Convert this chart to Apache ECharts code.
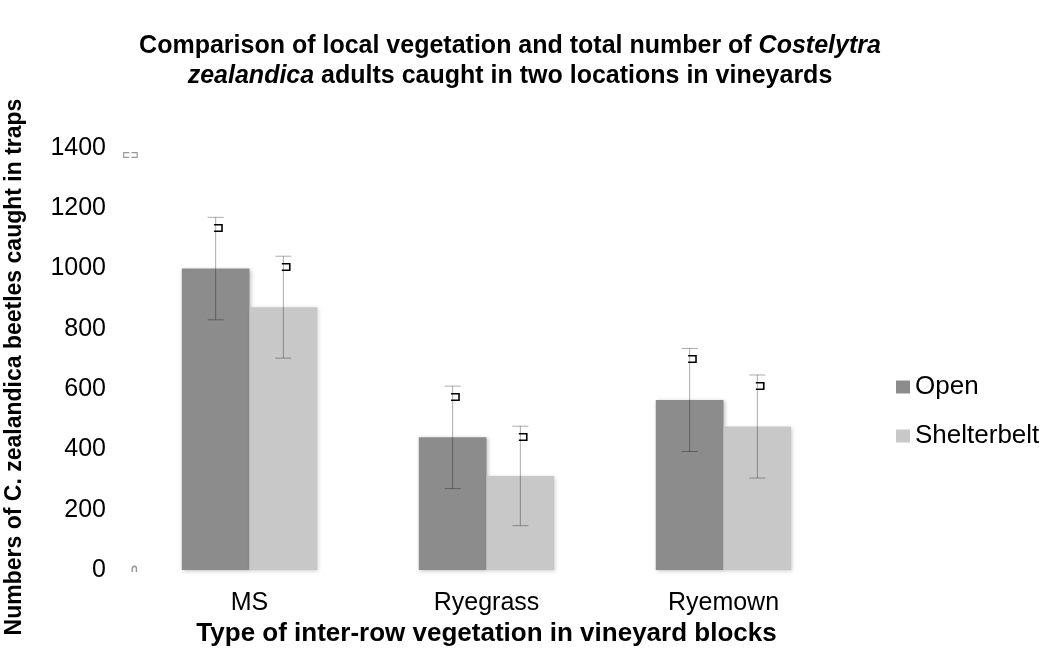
<!DOCTYPE html>
<html>
<head>
<meta charset="utf-8">
<script src="https://cdn.jsdelivr.net/npm/echarts@6/dist/echarts.min.js"></script>
<style>
  html, body { margin: 0; padding: 0; background: #fff; }
  #chart { width: 1046px; height: 660px; }
</style>
</head>
<body>
<div id="chart"></div>
<script>
// categories and values
var categories = ['MS', 'Ryegrass', 'Ryemown'];
var openValues = [1000, 440, 564];
var openErrors = [170, 170, 171];
var shelterValues = [872, 312, 476];
var shelterErrors = [169, 165, 171];
var yTicks = [0, 200, 400, 600, 800, 1000, 1200, 1400];

var font = '"Liberation Sans", Arial, sans-serif';
var barShare = 0.2857; // bar width as share of category

var myChart = echarts.init(document.getElementById('chart'));

// error bar with cap + the little bracket mark under the cap
function errorBar(side) {
    return function (params, api) {
        var i = api.value(0);
        var v = api.value(1);
        var e = api.value(2);
        var catW = api.size([1, 0])[0];
        var bw = catW * barShare;
        var c = api.coord([i, v]);
        var x = c[0] + side * bw / 2;
        var top = api.coord([i, v + e])[1];
        var bot = api.coord([i, v - e])[1];
        var cap = 8;
        var st = { stroke: 'rgba(0,0,0,0.33)', lineWidth: 1 };
        return {
            type: 'group',
            children: [
                { type: 'line', shape: { x1: x, y1: top, x2: x, y2: bot }, style: st },
                { type: 'line', shape: { x1: x - cap, y1: top, x2: x + cap, y2: top }, style: st },
                { type: 'line', shape: { x1: x - cap, y1: bot, x2: x + cap, y2: bot }, style: st },
                { type: 'text', x: x + 3, y: top + 11, style: {
                    text: '\u2290', fill: '#000', font: 'bold 14px "DejaVu Sans"',
                    align: 'center', verticalAlign: 'middle' } }
            ]
        };
    };
}

function errData(values, errors) {
    return values.map(function (v, i) { return [i, v, errors[i]]; });
}

myChart.setOption({
    animation: false,
    textStyle: { fontFamily: font },
    title: {
        text: '{b|Comparison of local vegetation and total number of }{bi|Costelytra}\n{bi|zealandica}{b| adults caught in two locations in vineyards}',
        left: 505,
        textAlign: 'center',
        top: 26,
        textStyle: {
            rich: {
                b: { fontFamily: font, fontSize: 25, fontWeight: 'bold', color: '#000', lineHeight: 30 },
                bi: { fontFamily: font, fontSize: 25, fontWeight: 'bold', fontStyle: 'italic', color: '#000', lineHeight: 30 }
            }
        }
    },
    legend: {
        orient: 'vertical',
        left: 891,
        top: 369,
        itemWidth: 14,
        itemHeight: 13,
        itemGap: 23,
        icon: 'rect',
        textStyle: { fontFamily: font, fontSize: 26, color: '#000' },
        data: ['Open', 'Shelterbelt']
    },
    grid: { left: 131, right: 204, top: 148, bottom: 90, outerBoundsMode: 'none' },
    xAxis: {
        type: 'category',
        data: categories,
        axisLine: { show: false },
        axisTick: { show: false },
        axisLabel: { fontFamily: font, fontSize: 25, color: '#000', margin: 21 },
        name: 'Type of inter-row vegetation in vineyard blocks',
        nameLocation: 'middle',
        nameGap: 41,
        nameTextStyle: { fontFamily: font, fontSize: 26, fontWeight: 'bold', color: '#000' }
    },
    yAxis: {
        type: 'value',
        min: yTicks[0],
        max: yTicks[yTicks.length - 1],
        interval: 200,
        splitLine: { show: false },
        axisLine: { show: false },
        axisTick: { show: false },
        axisLabel: { fontFamily: font, fontSize: 25, color: '#000', margin: 25, formatter: function (v) { return String(v); } },
        name: 'Numbers of C. zealandica beetles caught in traps',
        nameLocation: 'middle',
        nameRotate: 90,
        nameGap: 105,
        nameTextStyle: { fontFamily: font, fontSize: 23, fontWeight: 'bold', color: '#000', padding: [0, 16, 0, 0] }
    },
    graphic: [
        { type: 'text', left: 122, top: 150, style: { text: '\u228f\u2290', fill: '#999', font: 'bold 10px "DejaVu Sans"' } },
        { type: 'text', left: 130, top: 564, style: { text: '\u2229', fill: '#999', font: 'bold 11px "DejaVu Sans"' } }
    ],
    series: [
        {
            name: 'Open',
            type: 'bar',
            data: openValues,
            barWidth: (barShare * 100) + '%',
            barGap: '0%',
            itemStyle: { color: '#8c8c8c', shadowColor: 'rgba(0,0,0,0.25)', shadowBlur: 4, shadowOffsetX: 1, shadowOffsetY: 1 }
        },
        {
            name: 'Shelterbelt',
            type: 'bar',
            data: shelterValues,
            barWidth: (barShare * 100) + '%',
            barGap: '0%',
            itemStyle: { color: '#c8c8c8', shadowColor: 'rgba(0,0,0,0.2)', shadowBlur: 4, shadowOffsetX: 1, shadowOffsetY: 1 }
        },
        {
            type: 'custom',
            renderItem: errorBar(-1),
            data: errData(openValues, openErrors),
            z: 10,
            silent: true
        },
        {
            type: 'custom',
            renderItem: errorBar(1),
            data: errData(shelterValues, shelterErrors),
            z: 10,
            silent: true
        }
    ]
});
</script>
</body>
</html>
